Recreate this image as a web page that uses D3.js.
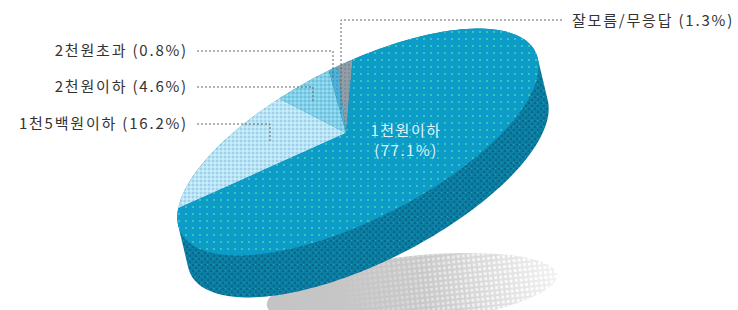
<!DOCTYPE html>
<html><head><meta charset="utf-8">
<script src="https://cdn.jsdelivr.net/npm/d3@7"></script>
<style>
html,body{margin:0;padding:0;background:#fff;}
svg{display:block;}
text{font-family:"Noto Sans CJK KR","Noto Sans",sans-serif;}
</style></head>
<body>
<svg id="chart" width="738" height="310"></svg>
<script>
// ---- data ----
const categories = ["1천5백원이하", "2천원이하", "2천원초과", "잘모름/무응답", "1천원이하"];
const values = [16.2, 4.6, 0.8, 1.3, 77.1];
const valueLabels = ["16.2%", "4.6%", "0.8%", "1.3%", "77.1%"];

const svg = d3.select("#chart");
const defs = svg.append("defs");

function dotPattern(id, size, bg, dots) {
  const p = defs.append("pattern").attr("id", id).attr("patternUnits", "userSpaceOnUse")
    .attr("width", size).attr("height", size);
  if (bg !== "none") p.append("rect").attr("width", size).attr("height", size).attr("fill", bg);
  dots.forEach(d => p.append("rect").attr("x", d[0]).attr("y", d[1]).attr("width", d[2]).attr("height", d[2]).attr("fill", d[3]));
}
dotPattern("pBig", 7, "#0d9bc7", [[3, 3, 2, "#34c6be"]]);
dotPattern("pSide", 6, "#0a7fa3", [[0, 0, 2, "#0b6788"], [3, 3, 2, "#0b6788"], [3, 0, 1, "#1fa6a8"]]);
dotPattern("pLight", 4, "#b6e6f6", [[0, 0, 2, "#a6cdee"], [2, 2, 2, "#c8f0fa"]]);
dotPattern("pMid", 4, "#82cfe8", [[0, 0, 2, "#6cbfe0"], [2, 2, 2, "#98dcef"]]);
dotPattern("pSmall", 4, "#4fb2d8", [[0, 0, 2, "#3f9fcc"]]);
dotPattern("pGray", 4, "#8f9ea8", [[0, 0, 2, "#7f8e9a"]]);
dotPattern("pShadowDots", 5, "none", [[0, 0, 3, "#ffffff"]]);

const fills = ["url(#pLight)", "url(#pMid)", "url(#pSmall)", "url(#pGray)", "url(#pBig)"];

// shadow gradients
const g1 = defs.append("linearGradient").attr("id", "shadowGrad").attr("x1", "0%").attr("x2", "100%");
g1.append("stop").attr("offset", "0%").attr("stop-color", "#c4c4c4");
g1.append("stop").attr("offset", "55%").attr("stop-color", "#c8c8c8");
g1.append("stop").attr("offset", "100%").attr("stop-color", "#f2f2f2");
const g2 = defs.append("linearGradient").attr("id", "maskGrad").attr("x1", "0%").attr("x2", "100%");
g2.append("stop").attr("offset", "25%").attr("stop-color", "#000");
g2.append("stop").attr("offset", "100%").attr("stop-color", "#fff");
const mask = defs.append("mask").attr("id", "dotMask").attr("maskContentUnits", "objectBoundingBox");
mask.append("rect").attr("width", 1).attr("height", 1).attr("fill", "url(#maskGrad)");

// geometry of tilted pie
const cx = 358, cy = 142, A = 199, B = 77, TH = -27 * Math.PI / 180, DX = 10, DY = 42;
const apex = [346, 133];
const u = [Math.cos(TH), Math.sin(TH)], v = [-Math.sin(TH), Math.cos(TH)];
function pt(phi, ox = 0, oy = 0) {
  const p = A * Math.cos(phi), q = B * Math.sin(phi);
  return [cx + ox + p * u[0] + q * v[0], cy + oy + p * u[1] + q * v[1]];
}
const toPhi = a => a - Math.PI / 2;

// shadow
const sh = svg.append("g").attr("transform", "rotate(-6,412,290)");
sh.append("ellipse").attr("cx", 412).attr("cy", 290).attr("rx", 146).attr("ry", 34).attr("fill", "url(#shadowGrad)");
sh.append("ellipse").attr("cx", 412).attr("cy", 290).attr("rx", 146).attr("ry", 34)
  .attr("fill", "url(#pShadowDots)").attr("mask", "url(#dotMask)");

// side (extrusion)
const samples = d3.range(0, 360, 2).map(d => d * Math.PI / 180);
const hullPts = d3.polygonHull(samples.map(p => pt(p)).concat(samples.map(p => pt(p, DX, DY))));
svg.append("path").attr("d", "M" + hullPts.join("L") + "Z").attr("fill", "url(#pSide)");

// top slices
const start = 287 * Math.PI / 180;
const pie = d3.pie().sort(null).startAngle(start).endAngle(start + 2 * Math.PI);
const arcs = pie(values);
const line = d3.line();
arcs.forEach((a, i) => {
  const n = Math.max(4, Math.ceil((a.endAngle - a.startAngle) / 0.02));
  const pts = [apex];
  for (let k = 0; k <= n; k++) pts.push(pt(toPhi(a.startAngle + (a.endAngle - a.startAngle) * k / n)));
  svg.append("path").attr("d", line(pts) + "Z").attr("fill", fills[i]);
});

// leader lines & labels
const lab = svg.append("g").attr("font-size", 15).attr("fill", "#333").attr("letter-spacing", 1.8);
const leaders = [
  { i: 2, tx: 188, ty: 56, path: [[197, 51], [333, 51], [333, 78]] },
  { i: 1, tx: 188, ty: 92, path: [[197, 87], [313, 87], [313, 101]] },
  { i: 0, tx: 188, ty: 129, path: [[197, 124], [270, 124], [270, 141]] },
];
leaders.forEach(d => {
  svg.append("path").attr("d", line(d.path)).attr("fill", "none").attr("stroke", "#666")
    .attr("stroke-width", 1).attr("stroke-dasharray", "2,2");
  lab.append("text").attr("x", d.tx).attr("y", d.ty).attr("text-anchor", "end")
    .text(categories[d.i] + " (" + valueLabels[d.i] + ")");
});
svg.append("path").attr("d", line([[562, 20], [341, 20], [341, 110]])).attr("fill", "none")
  .attr("stroke", "#666").attr("stroke-width", 1).attr("stroke-dasharray", "2,2");
lab.append("text").attr("x", 572).attr("y", 26).text(categories[3] + " (" + valueLabels[3] + ")");

// inner label
const inner = svg.append("g").attr("font-size", 15).attr("fill", "#dff4fa").attr("text-anchor", "middle").attr("letter-spacing", 1.5);
inner.append("text").attr("x", 406).attr("y", 136).text(categories[4]);
inner.append("text").attr("x", 406).attr("y", 156).text("(" + valueLabels[4] + ")");
</script>
</body></html>
